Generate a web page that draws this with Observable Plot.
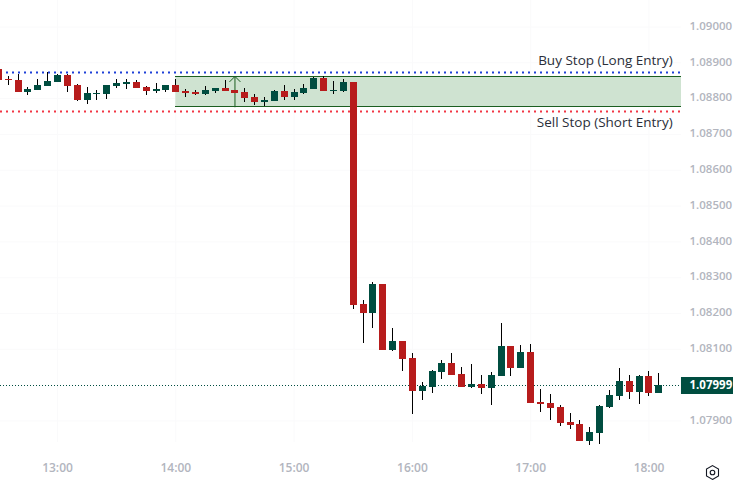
<!DOCTYPE html>
<html><head><meta charset="utf-8">
<script src="https://cdn.jsdelivr.net/npm/d3@7"></script>
<script src="https://cdn.jsdelivr.net/npm/@observablehq/plot@0.6"></script>
<style>html,body{margin:0;padding:0;background:#fff}svg{display:block}</style>
</head><body><div id="chart"></div>
<script>
const firstBarTime = Date.UTC(2024,0,1,12,30);
const barMinutes = 5;
const opens = [1.08881,1.08853,1.08851,1.08817,1.08823,1.08834,1.08845,1.08865,1.08837,1.08795,1.08811,1.08811,1.08834,1.08839,1.08845,1.08831,1.08820,1.08823,1.08837,1.08820,1.08817,1.08811,1.08820,1.08828,1.08823,1.08817,1.08803,1.08789,1.08792,1.08820,1.08803,1.08814,1.08825,1.08856,1.08820,1.08820,1.08845,1.08225,1.08200,1.08281,1.08096,1.08122,1.08074,1.07982,1.07993,1.08035,1.08060,1.08029,1.07993,1.08002,1.07990,1.08024,1.08108,1.08046,1.08091,1.07951,1.07948,1.07937,1.07895,1.07890,1.07842,1.07865,1.07937,1.07968,1.08010,1.07979,1.08024,1.07976];
const closes = [1.08851,1.08851,1.08817,1.08825,1.08837,1.08848,1.08865,1.08834,1.08795,1.08814,1.08814,1.08837,1.08842,1.08845,1.08828,1.08820,1.08825,1.08837,1.08817,1.08814,1.08811,1.08823,1.08828,1.08820,1.08814,1.08800,1.08789,1.08795,1.08820,1.08803,1.08817,1.08828,1.08856,1.08820,1.08823,1.08845,1.08222,1.08200,1.08281,1.08096,1.08122,1.08071,1.07982,1.07996,1.08038,1.08060,1.08027,1.07993,1.08002,1.07990,1.08027,1.08108,1.08046,1.08091,1.07948,1.07946,1.07934,1.07893,1.07887,1.07842,1.07867,1.07940,1.07971,1.08010,1.07979,1.08024,1.07976,1.07999];
const highs = [1.08881,1.08862,1.08867,1.08831,1.08853,1.08873,1.08867,1.08867,1.08839,1.08831,1.08823,1.08837,1.08853,1.08853,1.08851,1.08834,1.08842,1.08837,1.08853,1.08825,1.08823,1.08834,1.08828,1.08851,1.08823,1.08828,1.08811,1.08803,1.08823,1.08837,1.08825,1.08839,1.08859,1.08862,1.08848,1.08853,1.08845,1.08236,1.08286,1.08281,1.08158,1.08122,1.08088,1.08007,1.08041,1.08069,1.08088,1.08049,1.08057,1.08027,1.08035,1.08172,1.08108,1.08110,1.08113,1.07987,1.07974,1.07943,1.07920,1.07901,1.07881,1.07943,1.07985,1.08046,1.08027,1.08027,1.08038,1.08032];
const lows = [1.08851,1.08837,1.08817,1.08809,1.08823,1.08834,1.08845,1.08817,1.08792,1.08784,1.08795,1.08797,1.08828,1.08825,1.08828,1.08809,1.08814,1.08817,1.08817,1.08803,1.08809,1.08809,1.08814,1.08820,1.08814,1.08789,1.08781,1.08778,1.08792,1.08795,1.08795,1.08811,1.08825,1.08820,1.08811,1.08817,1.08211,1.08116,1.08158,1.08096,1.08094,1.08038,1.07918,1.07957,1.07976,1.08015,1.08027,1.07993,1.07990,1.07974,1.07943,1.08024,1.08024,1.08046,1.07948,1.07923,1.07901,1.07884,1.07876,1.07842,1.07831,1.07834,1.07934,1.07957,1.07960,1.07946,1.07968,1.07976];
const priceTicks = [1.09,1.089,1.088,1.087,1.086,1.085,1.084,1.083,1.082,1.081,1.079];
const hourTicks = [13,14,15,16,17,18];
const buyStop = 1.08873, sellStop = 1.08764;
const zoneTop = 1.08862, zoneBottom = 1.08777;
const lastPrice = 1.07999;
const buyLabel = "Buy Stop (Long Entry)", sellLabel = "Sell Stop (Short Entry)";
const buyLabelPrice = 1.08906, sellLabelPrice = 1.08733;

const at = (h,m=0,s=0)=>new Date(Date.UTC(2024,0,1,h,m,s));
const leftEdge = at(12,31,5), rightEdge = at(18,42,52), paneEnd = at(18,16,29), labelEnd = at(18,12,0);
const zoneStart = at(14,0), arrowTime = at(14,30);
const hours = hourTicks.map(h=>at(h));
const bars = opens.map((o,i)=>({t:new Date(firstBarTime+i*barMinutes*6e4),o,c:closes[i],h:highs[i],l:lows[i]}));
const red="#b71c1c", green="#004d40", axisGray="#b2b5be", font="'Open Sans',sans-serif";

const chart = Plot.plot({
  width:733,height:481,marginTop:0,marginLeft:0,marginRight:52,marginBottom:30,
  style:{fontFamily:font,background:"#fff",overflow:"visible"},
  x:{type:"utc",domain:[leftEdge,rightEdge],range:[0,733]},
  y:{domain:[1.09074,1.07731],range:[0,481]},
  marks:[
    Plot.ruleX(hours,{stroke:"#fafafb",y1:1.09074,y2:1.0784}),
    Plot.ruleY(priceTicks,{stroke:"#fafafb",x1:leftEdge,x2:paneEnd}),
    Plot.rect([{}],{x1:zoneStart,x2:paneEnd,y1:zoneBottom,y2:zoneTop,fill:"#cfe3d1"}),
    Plot.ruleY([zoneTop,zoneBottom],{x1:zoneStart,x2:paneEnd,stroke:"#1b5e20",strokeWidth:1,shapeRendering:"crispEdges"}),
    Plot.ruleY([buyStop],{x1:leftEdge,x2:paneEnd,stroke:"#1e40d8",strokeWidth:2,strokeDasharray:"2 4"}),
    Plot.ruleY([sellStop],{x1:leftEdge,x2:paneEnd,stroke:"#f23645",strokeWidth:2,strokeDasharray:"2 4"}),
    Plot.ruleY([lastPrice],{x1:leftEdge,x2:paneEnd,stroke:green,strokeWidth:1,strokeDasharray:"1 2"}),
    Plot.arrow([{}],{x1:arrowTime,x2:arrowTime,y1:zoneBottom,y2:zoneTop,stroke:"#1b5e20",strokeWidth:1,bend:0,headLength:11,headAngle:90}),
    Plot.ruleX(bars,{x:"t",y1:"l",y2:"h",stroke:"#000",strokeWidth:1,shapeRendering:"crispEdges"}),
    Plot.ruleX(bars,{x:"t",y1:"o",y2:"c",stroke:d=>d.c<d.o?red:green,strokeWidth:7,strokeLinecap:"butt",shapeRendering:"crispEdges"}),
    Plot.text([buyLabel],{x:labelEnd,y:buyLabelPrice,text:d=>d,textAnchor:"end",fontSize:13.5,fill:"#2a2e39"}),
    Plot.text([sellLabel],{x:labelEnd,y:sellLabelPrice,text:d=>d,textAnchor:"end",fontSize:13.5,fill:"#2a2e39"}),
    Plot.axisY({ticks:priceTicks,anchor:"right",tickSize:0,tickPadding:8,dy:-1,tickFormat:d3.format(".5f"),label:null,color:axisGray,fontSize:11.5,fontWeight:600}),
    Plot.axisX({ticks:hours,anchor:"bottom",tickSize:0,tickPadding:12,tickFormat:d3.utcFormat("%H:%M"),label:null,color:axisGray,fontSize:12,fontWeight:600}),
    Plot.ruleY([lastPrice],{x1:paneEnd,x2:rightEdge,stroke:green,strokeWidth:17}),
    Plot.text([lastPrice],{x:paneEnd,y:lastPrice,text:d=>d3.format(".5f")(d),textAnchor:"start",dx:8,fill:"#fff",fontSize:11.5,fontWeight:700}),
    Plot.dot([0],{frameAnchor:"bottom-right",dx:31,dy:21,symbol:"hexagon",r:6,stroke:"#131722",strokeWidth:1.1,fill:"none"}),
    Plot.dot([0],{frameAnchor:"bottom-right",dx:31,dy:21,symbol:"circle",r:2.3,stroke:"#131722",strokeWidth:1.1,fill:"none"})
  ]
});
document.getElementById("chart").append(chart);
</script></body></html>
